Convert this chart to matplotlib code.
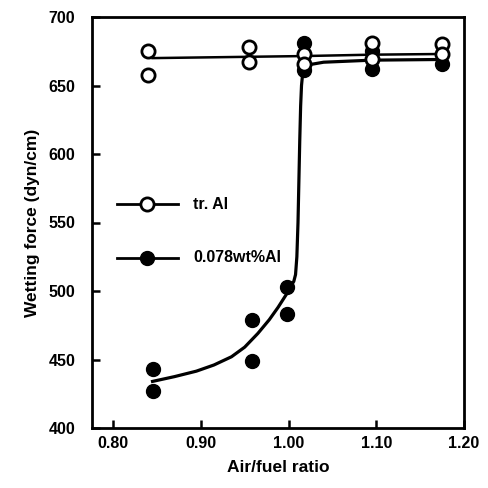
import matplotlib
matplotlib.use("Agg")
import matplotlib.pyplot as plt

# open circles: tr. Al
tr_x = [0.84, 0.84, 0.955, 0.955, 1.018, 1.018, 1.095, 1.095, 1.175, 1.175]
tr_y = [675, 658, 678, 667, 673, 666, 681, 669, 680, 673]
# filled circles: 0.078wt%Al
al_x = [0.845, 0.845, 0.958, 0.958, 0.998, 0.998, 1.018, 1.018, 1.095, 1.095, 1.175]
al_y = [443, 427, 479, 449, 503, 483, 681, 661, 675, 662, 666]

# trend lines (hand-drawn curves)
tr_line_x = [0.845, 1.018, 1.095, 1.175]
tr_line_y = [670, 671.5, 672.5, 673]
al_line_x = [0.845, 0.87, 0.895, 0.915, 0.935, 0.95, 0.965, 0.978, 0.988, 0.995, 1.0, 1.003,
             1.006, 1.008, 1.0095, 1.0108, 1.0118, 1.0128, 1.0138, 1.0148, 1.016, 1.018,
             1.022, 1.04, 1.095, 1.175]
al_line_y = [434, 437.5, 441.5, 446, 452, 459, 469, 479, 488, 495, 500, 504,
             507, 512, 525, 550, 580, 610, 635, 650, 658, 662,
             665, 667, 668.5, 669]

xticks = [0.80, 0.90, 1.00, 1.10, 1.20]
xticklabels = ["0.80", "0.90", "1.00", "1.10", "1.20"]
yticks = [400, 450, 500, 550, 600, 650, 700]
legend_labels = ["tr. Al", "0.078wt%Al"]

plt.rcParams['font.family'] = ['Liberation Sans', 'DejaVu Sans']

fig = plt.figure(figsize=(4.88, 4.88), dpi=100)
ax = fig.add_axes([92/488, 1-428/488, (464-92)/488, (428-17)/488])

ax.plot(tr_line_x, tr_line_y, color='black', lw=1.8, zorder=2)
ax.plot(al_line_x, al_line_y, color='black', lw=2.3, zorder=2, solid_joinstyle='round')
ax.plot(tr_x, tr_y, 'o', ms=9.5, mfc='white', mec='black', mew=2, ls='none', zorder=4)
ax.plot(al_x, al_y, 'o', ms=10, mfc='black', mec='black', ls='none', zorder=3)

ax.set_xlim(0.776, 1.20)
ax.set_ylim(400, 700)
ax.set_xticks(xticks)
ax.set_xticklabels(xticklabels)
ax.set_yticks(yticks)
ax.tick_params(direction='in', length=6, width=1.8, labelsize=11.5)
ax.tick_params(axis='y', pad=12)
ax.tick_params(axis='x', pad=6)
for lab in ax.get_xticklabels() + ax.get_yticklabels():
    lab.set_fontweight('bold')
for s in ax.spines.values():
    s.set_linewidth(2)

ax.set_xlabel("Air/fuel ratio", fontsize=12.5, fontweight='bold', labelpad=6)
ax.set_ylabel("Wetting force (dyn/cm)", fontsize=12.5, fontweight='bold', labelpad=6)

# legend drawn in axes coordinates
leg_y = [0.545, 0.414]
styles = [dict(mfc='white', mec='black', mew=2, ms=9.5), dict(mfc='black', mec='black', ms=10)]
for yy, lab, st in zip(leg_y, legend_labels, styles):
    ax.plot([0.067, 0.231], [yy, yy], color='black', lw=2, transform=ax.transAxes, clip_on=False)
    ax.plot([0.149], [yy], 'o', transform=ax.transAxes, clip_on=False, **st)
    ax.text(0.272, yy, lab, transform=ax.transAxes, va='center', ha='left',
            fontsize=11.5, fontweight='bold')

fig.savefig("out.png", dpi=100)
